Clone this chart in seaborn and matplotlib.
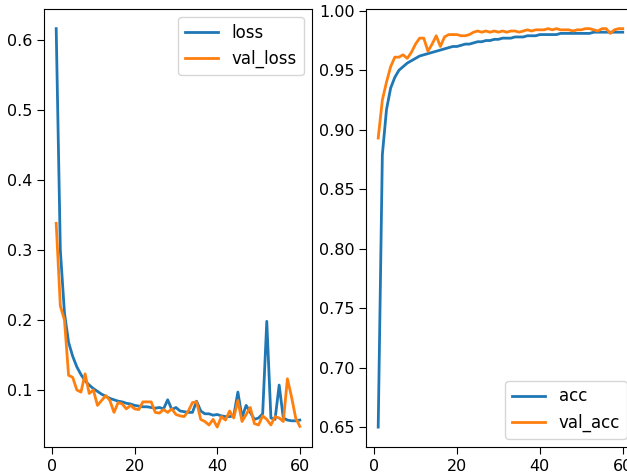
import numpy as np
import pandas as pd
import seaborn as sns
import matplotlib
matplotlib.use("Agg")
import matplotlib.pyplot as plt

epochs = list(range(1, 61))

loss = [0.616, 0.30, 0.21, 0.168, 0.148, 0.133, 0.122, 0.113, 0.107, 0.102,
        0.098, 0.094, 0.091, 0.088, 0.086, 0.084, 0.083, 0.081, 0.080, 0.078,
        0.077, 0.076, 0.076, 0.075, 0.074, 0.075, 0.073, 0.086, 0.072, 0.075,
        0.070, 0.069, 0.068, 0.068, 0.084, 0.070, 0.066, 0.066, 0.064, 0.065,
        0.063, 0.062, 0.062, 0.063, 0.097, 0.061, 0.078, 0.068, 0.058, 0.060,
        0.066, 0.198, 0.060, 0.058, 0.107, 0.060, 0.057, 0.056, 0.056, 0.057]

val_loss = [0.338, 0.22, 0.20, 0.121, 0.118, 0.100, 0.097, 0.123, 0.095, 0.100,
            0.078, 0.085, 0.092, 0.085, 0.068, 0.082, 0.080, 0.073, 0.078, 0.073,
            0.072, 0.083, 0.083, 0.083, 0.068, 0.067, 0.072, 0.068, 0.073, 0.065,
            0.063, 0.062, 0.070, 0.082, 0.083, 0.058, 0.055, 0.050, 0.058, 0.047,
            0.062, 0.057, 0.070, 0.060, 0.085, 0.055, 0.065, 0.075, 0.052, 0.050,
            0.063, 0.058, 0.050, 0.062, 0.060, 0.055, 0.116, 0.090, 0.060, 0.048]

acc = [0.650, 0.879, 0.917, 0.935, 0.944, 0.950, 0.953, 0.956, 0.958, 0.960,
       0.962, 0.963, 0.964, 0.965, 0.966, 0.967, 0.968, 0.969, 0.970, 0.970,
       0.971, 0.972, 0.972, 0.973, 0.974, 0.974, 0.975, 0.975, 0.976, 0.976,
       0.977, 0.977, 0.977, 0.978, 0.978, 0.978, 0.979, 0.979, 0.979, 0.980,
       0.980, 0.980, 0.980, 0.980, 0.981, 0.981, 0.981, 0.981, 0.981, 0.981,
       0.981, 0.981, 0.982, 0.982, 0.982, 0.982, 0.982, 0.982, 0.982, 0.982]

val_acc = [0.893, 0.925, 0.940, 0.953, 0.961, 0.961, 0.963, 0.960, 0.965, 0.972,
           0.977, 0.977, 0.966, 0.972, 0.979, 0.970, 0.978, 0.980, 0.980, 0.980,
           0.979, 0.979, 0.980, 0.982, 0.983, 0.982, 0.983, 0.982, 0.983, 0.982,
           0.983, 0.982, 0.983, 0.983, 0.982, 0.983, 0.984, 0.983, 0.984, 0.984,
           0.984, 0.985, 0.984, 0.985, 0.984, 0.984, 0.984, 0.983, 0.984, 0.984,
           0.985, 0.985, 0.984, 0.983, 0.985, 0.985, 0.981, 0.984, 0.985, 0.985]

plt.rcParams["xtick.labelsize"] = 11.5
plt.rcParams["ytick.labelsize"] = 11.5
plt.rcParams["xtick.major.size"] = 4.8
plt.rcParams["ytick.major.size"] = 4.8
plt.rcParams["legend.fontsize"] = 12
plt.rcParams["lines.linewidth"] = 2.0

fig = plt.figure(figsize=(6.27, 4.76), dpi=100)
ax1 = fig.add_axes([0.0702, 0.0609, 0.4274, 0.9208])
ax2 = fig.add_axes([0.5837, 0.0609, 0.4290, 0.9208])

sns.lineplot(x=epochs, y=loss, label="loss", ax=ax1)
sns.lineplot(x=epochs, y=val_loss, label="val_loss", ax=ax1)
ax1.legend(loc="upper right")

sns.lineplot(x=epochs, y=acc, label="acc", ax=ax2)
sns.lineplot(x=epochs, y=val_acc, label="val_acc", ax=ax2)
ax2.legend(loc="lower right")

for ax in (ax1, ax2):
    ax.set_xlabel("")
    ax.set_ylabel("")
    ax.set_xticks([0, 20, 40, 60])

plt.savefig("out.png", dpi=100)
